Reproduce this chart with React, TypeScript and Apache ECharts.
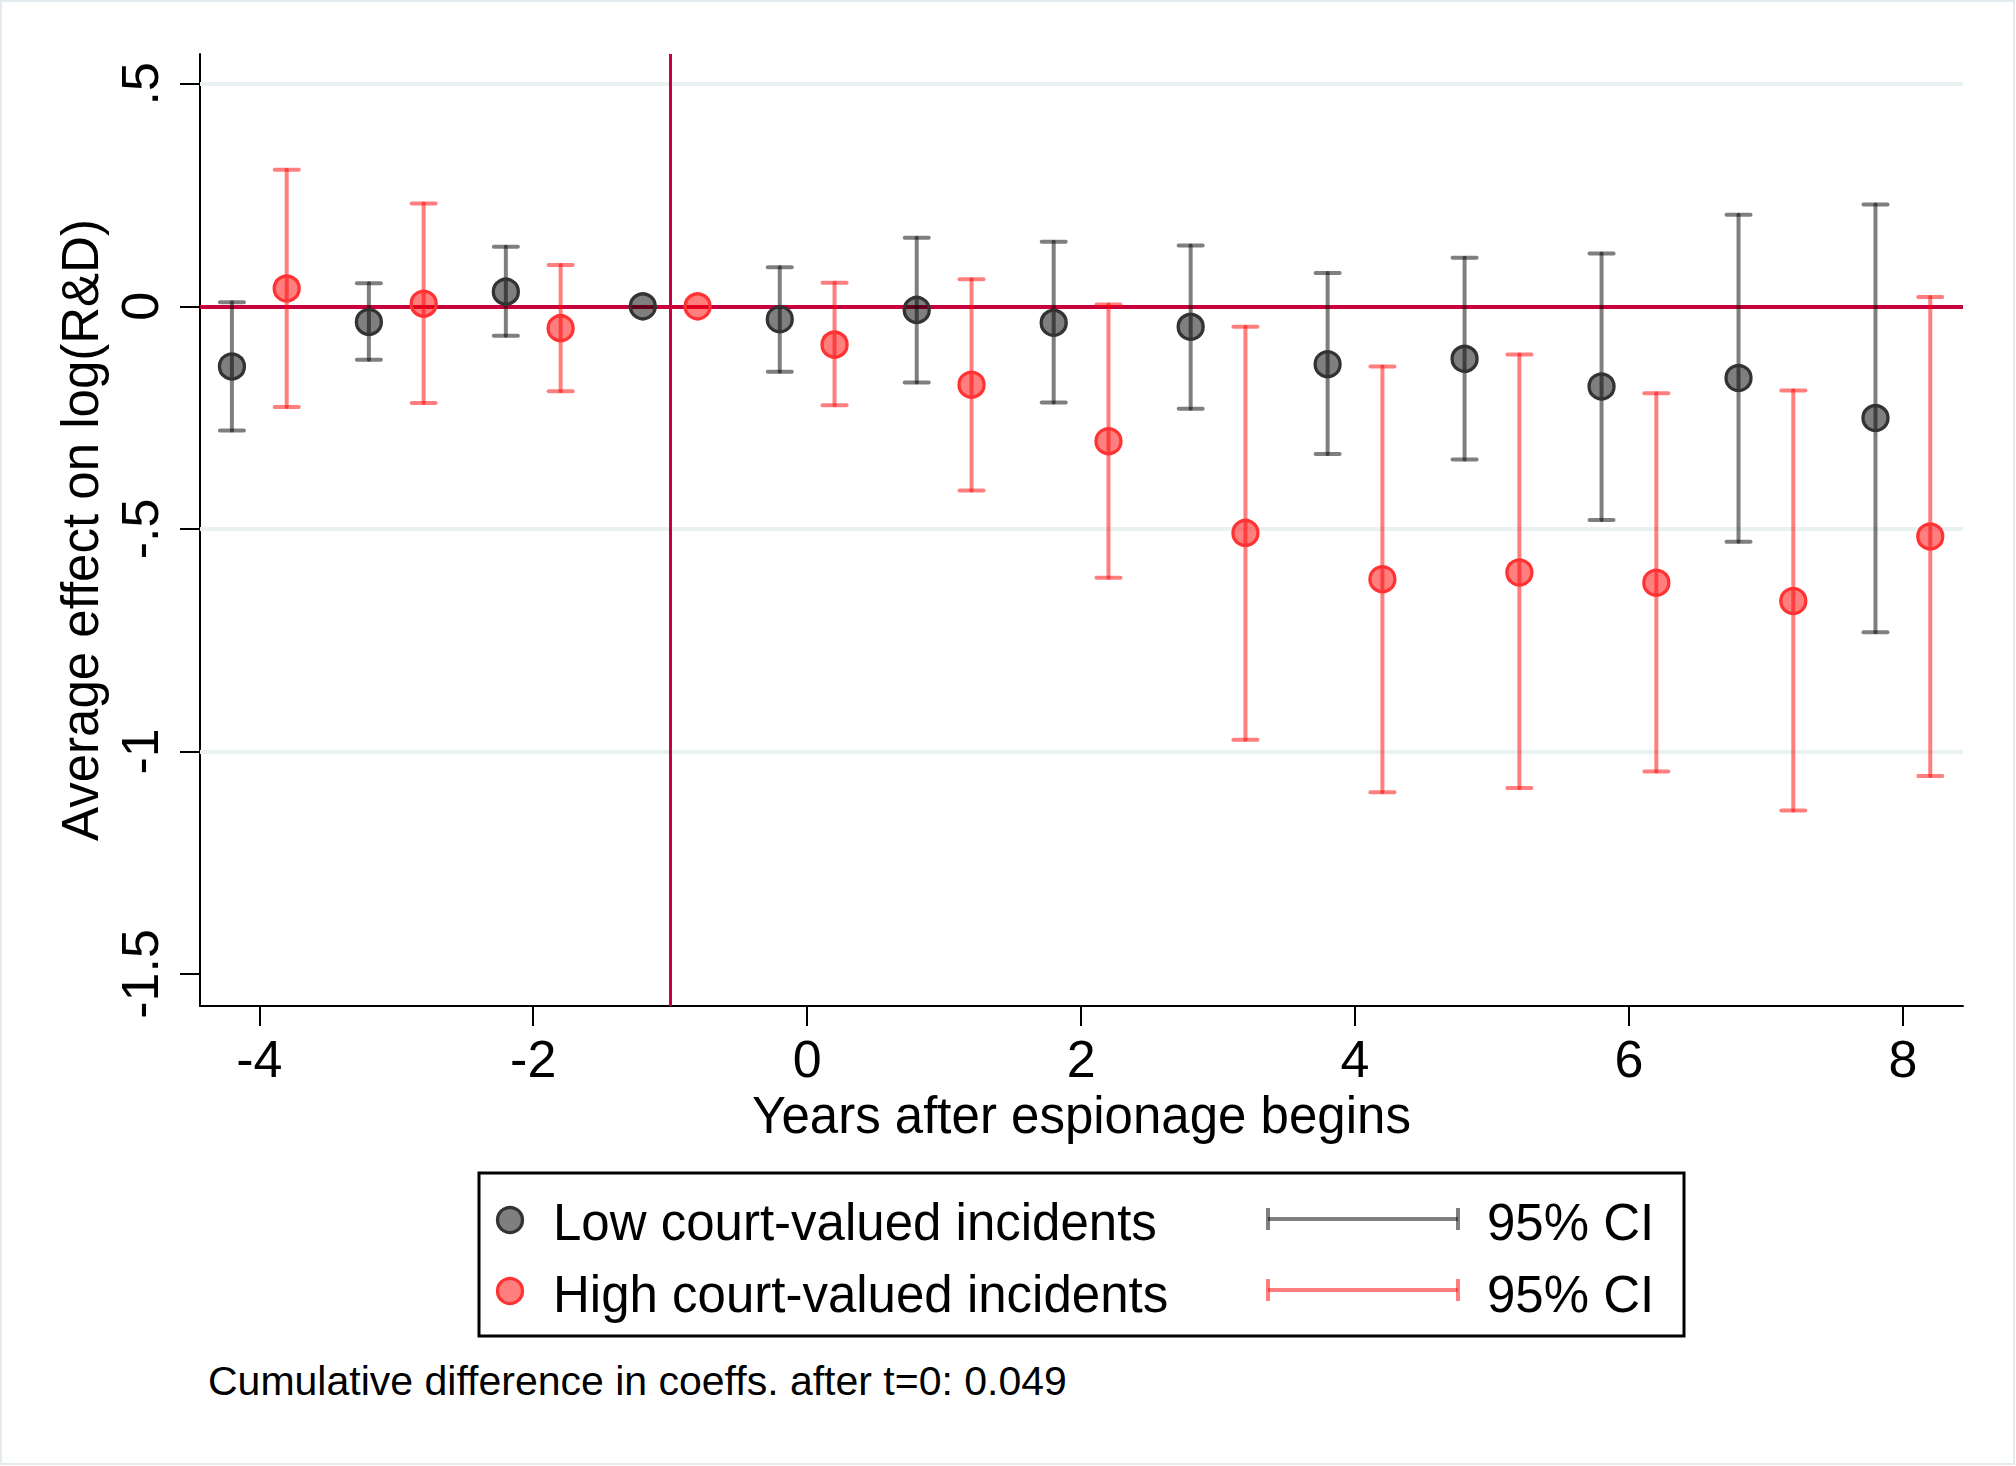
import React, { useEffect, useRef } from "react";
import * as echarts from "echarts";

// ---- data ----
const xLow = [-4.2, -3.2, -2.2, -1.2, -0.2, 0.8, 1.8, 2.8, 3.8, 4.8, 5.8, 6.8, 7.8];
const lowCoef = [-0.135, -0.035, 0.033, 0, -0.029, -0.008, -0.037, -0.046, -0.13, -0.118, -0.18, -0.161, -0.251];
const lowLo = [-0.279, -0.12, -0.066, null, -0.147, -0.171, -0.216, -0.23, -0.332, -0.344, -0.48, -0.529, -0.732];
const lowHi = [0.009, 0.052, 0.134, null, 0.088, 0.154, 0.145, 0.137, 0.075, 0.109, 0.119, 0.206, 0.229];

const xHigh = [-3.8, -2.8, -1.8, -0.8, 0.2, 1.2, 2.2, 3.2, 4.2, 5.2, 6.2, 7.2, 8.2];
const highCoef = [0.04, 0.006, -0.049, 0, -0.086, -0.176, -0.303, -0.509, -0.613, -0.598, -0.621, -0.662, -0.517];
const highLo = [-0.226, -0.217, -0.191, null, -0.222, -0.414, -0.61, -0.974, -1.092, -1.082, -1.045, -1.133, -1.055];
const highHi = [0.307, 0.231, 0.093, null, 0.053, 0.061, 0.004, -0.046, -0.135, -0.108, -0.195, -0.189, 0.021];

const xTicks = [-4, -2, 0, 2, 4, 6, 8];
const yTicks = [-1.5, -1, -0.5, 0, 0.5];
const yTickLabels = ["-1.5", "-1", "-.5", "0", ".5"];
const gridValues = [0.5, -0.5, -1];
const refY = 0;
const refX = -1;

const seriesNames = ["Low court-valued incidents", "High court-valued incidents"];
const ciLabel = "95% CI";
const xTitle = "Years after espionage begins";
const yTitle = "Average effect on log(R&D)";
const note = "Cumulative difference in coeffs. after t=0: 0.049";

// ---- styles ----
const W = 2016;
const H = 1466;
const FONT = "'Liberation Sans', Arial, Helvetica, sans-serif";
const REF_COLOR = "#c8003c";
const GRID_COLOR = "#eaf1f3";
const LOW_LINE = "rgba(0,0,0,0.5)";
const HIGH_LINE = "rgba(255,0,0,0.5)";
const LOW_FILL = "rgba(0,0,0,0.5)";
const HIGH_FILL = "rgba(255,0,0,0.5)";
const LOW_BORDER = "#333333";
const HIGH_BORDER = "#ff3333";

function ciData(xs: number[], lo: (number | null)[], hi: (number | null)[]) {
  const out: number[][] = [];
  xs.forEach((x, i) => {
    if (lo[i] !== null && hi[i] !== null) out.push([x, lo[i] as number, hi[i] as number]);
  });
  return out;
}

function ciRender(color: string) {
  return (params: any, api: any) => {
    const x = api.value(0);
    const lo = api.value(1);
    const hi = api.value(2);
    const pt = api.coord([x, hi]);
    const pb = api.coord([x, lo]);
    const half = 12;
    const style = { stroke: color, lineWidth: 4, lineCap: "round" };
    return {
      type: "group",
      children: [
        { type: "line", shape: { x1: pt[0], y1: pt[1], x2: pb[0], y2: pb[1] }, style },
        { type: "line", shape: { x1: pt[0] - half, y1: pt[1], x2: pt[0] + half, y2: pt[1] }, style },
        { type: "line", shape: { x1: pb[0] - half, y1: pb[1], x2: pb[0] + half, y2: pb[1] }, style },
      ],
    };
  };
}

function txt(text: string, x: number, y: number, size: number) {
  return {
    type: "text",
    x,
    y,
    silent: true,
    style: {
      text,
      fill: "#000",
      fontSize: size,
      fontFamily: FONT,
      align: "left",
      verticalAlign: "middle",
      textAlign: "left",
      textVerticalAlign: "middle",
    },
  };
}

function legendCI(y: number, color: string) {
  const x1 = 1268;
  const x2 = 1458;
  const style = { stroke: color, lineWidth: 4 };
  return [
    { type: "line", shape: { x1, y1: y, x2, y2: y }, style },
    { type: "line", shape: { x1, y1: y - 11, x2: x1, y2: y + 11 }, style },
    { type: "line", shape: { x1: x2, y1: y - 11, x2, y2: y + 11 }, style },
  ];
}

function buildOption() {
  const axisText = { color: "#000", fontFamily: FONT, fontSize: 52 };
  return {
    animation: false,
    backgroundColor: "#ffffff",
    grid: { left: 200, right: 53, top: 54, bottom: 460, containLabel: false },
    xAxis: {
      type: "value",
      min: -4.433,
      max: 8.439,
      name: xTitle,
      nameLocation: "middle",
      nameGap: 83,
      nameTextStyle: { color: "#000", fontFamily: FONT, fontSize: 51 },
      axisLine: { show: true, onZero: false, lineStyle: { color: "#000", width: 2 } },
      axisTick: { show: true, length: 20, customValues: xTicks, lineStyle: { color: "#000", width: 2 } },
      axisLabel: { ...axisText, margin: 27, customValues: xTicks, formatter: (v: number) => String(v) },
      splitLine: { show: false },
    },
    yAxis: {
      type: "value",
      min: -1.572,
      max: 0.567,
      name: yTitle,
      nameLocation: "middle",
      nameGap: 90,
      nameTextStyle: { color: "#000", fontFamily: FONT, fontSize: 51 },
      axisLine: { show: true, onZero: false, lineStyle: { color: "#000", width: 2 } },
      axisTick: { show: true, length: 20, customValues: yTicks, lineStyle: { color: "#000", width: 2 } },
      axisLabel: {
        ...axisText,
        margin: 34,
        rotate: 90,
        customValues: yTicks,
        formatter: (v: number) => {
          const i = yTicks.findIndex((t) => Math.abs(t - v) < 1e-9);
          return i >= 0 ? yTickLabels[i] : "";
        },
      },
      splitLine: { show: false },
    },
    series: [
      {
        type: "scatter",
        name: "ref",
        data: [],
        silent: true,
        z: 1,
        markLine: {
          silent: true,
          z: 1,
          symbol: ["none", "none"],
          label: { show: false },
          animation: false,
          data: [
            ...gridValues.map((v) => ({ yAxis: v, lineStyle: { color: GRID_COLOR, width: 4, type: "solid" } })),
            { yAxis: refY, lineStyle: { color: REF_COLOR, width: 4, type: "solid" } },
            { xAxis: refX, lineStyle: { color: REF_COLOR, width: 3, type: "solid" } },
          ],
        },
      },
      {
        type: "custom",
        name: seriesNames[0] + " CI",
        z: 2,
        silent: true,
        encode: { x: 0, y: [1, 2] },
        data: ciData(xLow, lowLo, lowHi),
        renderItem: ciRender(LOW_LINE),
      },
      {
        type: "custom",
        name: seriesNames[1] + " CI",
        z: 2,
        silent: true,
        encode: { x: 0, y: [1, 2] },
        data: ciData(xHigh, highLo, highHi),
        renderItem: ciRender(HIGH_LINE),
      },
      {
        type: "scatter",
        name: seriesNames[0],
        z: 3,
        symbol: "circle",
        symbolSize: 25,
        data: xLow.map((x, i) => [x, lowCoef[i]]),
        itemStyle: { color: LOW_FILL, borderColor: LOW_BORDER, borderWidth: 3.3, opacity: 1 },
      },
      {
        type: "scatter",
        name: seriesNames[1],
        z: 3,
        symbol: "circle",
        symbolSize: 25,
        data: xHigh.map((x, i) => [x, highCoef[i]]),
        itemStyle: { color: HIGH_FILL, borderColor: HIGH_BORDER, borderWidth: 3.3, opacity: 1 },
      },
    ],
    graphic: [
      {
        type: "rect",
        silent: true,
        shape: { x: 1, y: 1, width: W - 3, height: H - 3 },
        style: { fill: "none", stroke: "#e3ebee", lineWidth: 2 },
      },
      {
        type: "rect",
        silent: true,
        shape: { x: 479, y: 1173, width: 1205, height: 163 },
        style: { fill: "#fff", stroke: "#000", lineWidth: 3 },
      },
      {
        type: "circle",
        silent: true,
        shape: { cx: 510, cy: 1220, r: 12.5 },
        style: { fill: LOW_FILL, stroke: LOW_BORDER, lineWidth: 3.3 },
      },
      {
        type: "circle",
        silent: true,
        shape: { cx: 510, cy: 1291, r: 12.5 },
        style: { fill: HIGH_FILL, stroke: HIGH_BORDER, lineWidth: 3.3 },
      },
      txt(seriesNames[0], 553, 1222, 51),
      txt(seriesNames[1], 553, 1294, 51),
      ...legendCI(1219, LOW_LINE),
      ...legendCI(1290, HIGH_LINE),
      txt(ciLabel, 1487, 1222, 51),
      txt(ciLabel, 1487, 1294, 51),
      txt(note, 208, 1381, 41),
    ],
  };
}

export default function App() {
  const ref = useRef<HTMLDivElement>(null);
  useEffect(() => {
    document.body.style.margin = "0";
    if (!ref.current) return;
    const chart = echarts.init(ref.current, null, { renderer: "svg", width: W, height: H });
    chart.setOption(buildOption() as any);
    return () => {
      chart.dispose();
    };
  }, []);
  return <div ref={ref} style={{ width: W, height: H, background: "#fff" }} />;
}
